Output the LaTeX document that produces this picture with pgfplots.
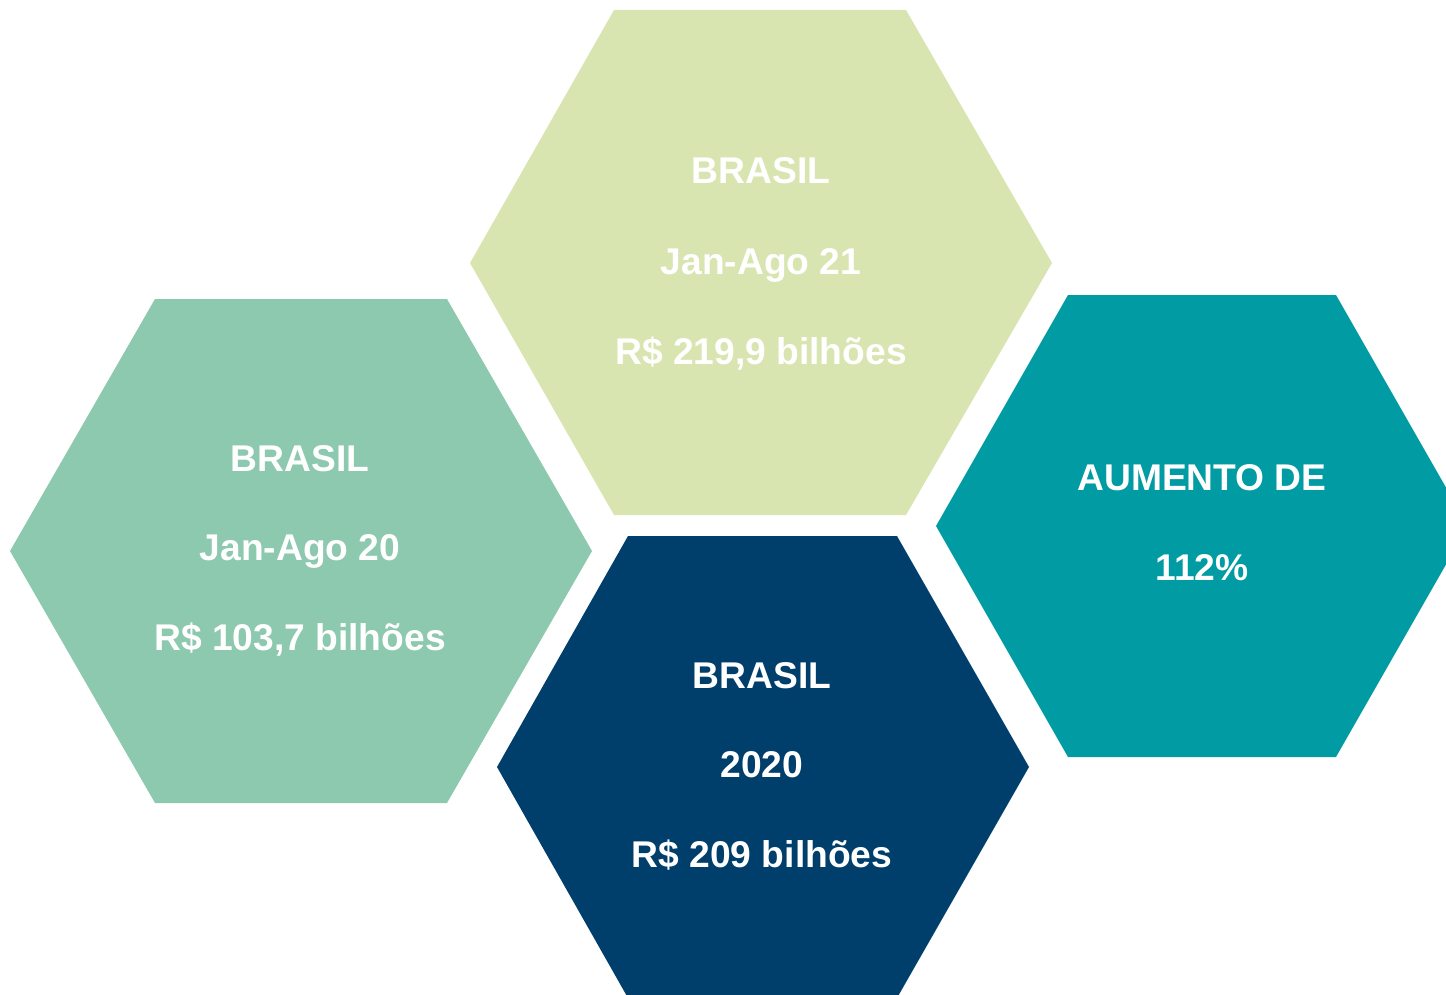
\documentclass[border=0pt]{standalone}
\usepackage{fontspec}
\setmainfont{Liberation Sans}
\usepackage{pgfplots}
\pgfplotsset{compat=1.18}
\definecolor{lgreen}{HTML}{D9E5B0}
\definecolor{mint}{HTML}{8CC9AE}
\definecolor{dblue}{HTML}{003F6C}
\definecolor{teal2}{HTML}{009BA3}
\tikzset{lbl/.style={text=white, font=\fontsize{18.6pt}{20pt}\selectfont\bfseries, anchor=base, inner sep=0pt}}
\begin{document}
\begin{tikzpicture}
\useasboundingbox (0,0) rectangle (723pt,497.5pt);
\begin{axis}[
  at={(0,0)}, anchor=south west,
  x=0.5pt, y=0.5pt, y dir=reverse,
  xmin=0, xmax=1446, ymin=0, ymax=995,
  hide axis, clip=true,
]
% top hexagon (light green)
\addplot[draw=none, fill=lgreen] coordinates {(614,10) (906,10) (1052,263) (906,515) (614,515) (470,263)} -- cycle;
% left hexagon (mint)
\addplot[draw=none, fill=mint] coordinates {(155,299) (447,299) (592,551) (447,803) (155,803) (10,551)} -- cycle;
% bottom hexagon (dark blue)
\addplot[draw=none, fill=dblue] coordinates {(628,536) (897,536) (1029,767) (897,998) (628,998) (497,767)} -- cycle;
% right hexagon (teal)
\addplot[draw=none, fill=teal2] coordinates {(1068,295) (1336,295) (1468,526) (1336,757) (1068,757) (936,526)} -- cycle;

\node[lbl] at (axis cs:761,184) {BRASIL};
\node[lbl] at (axis cs:761,274) {Jan-Ago 21};
\node[lbl] at (axis cs:761,364) {R\$ 219,9 bilhões};

\node[lbl] at (axis cs:300,471) {BRASIL};
\node[lbl] at (axis cs:300,560) {Jan-Ago 20};
\node[lbl] at (axis cs:300,650) {R\$ 103,7 bilhões};

\node[lbl] at (axis cs:762,688) {BRASIL};
\node[lbl] at (axis cs:762,777) {2020};
\node[lbl] at (axis cs:762,867) {R\$ 209 bilhões};

\node[lbl] at (axis cs:1202,490) {AUMENTO DE};
\node[lbl] at (axis cs:1202,580) {112\%};
\end{axis}
\end{tikzpicture}
\end{document}
